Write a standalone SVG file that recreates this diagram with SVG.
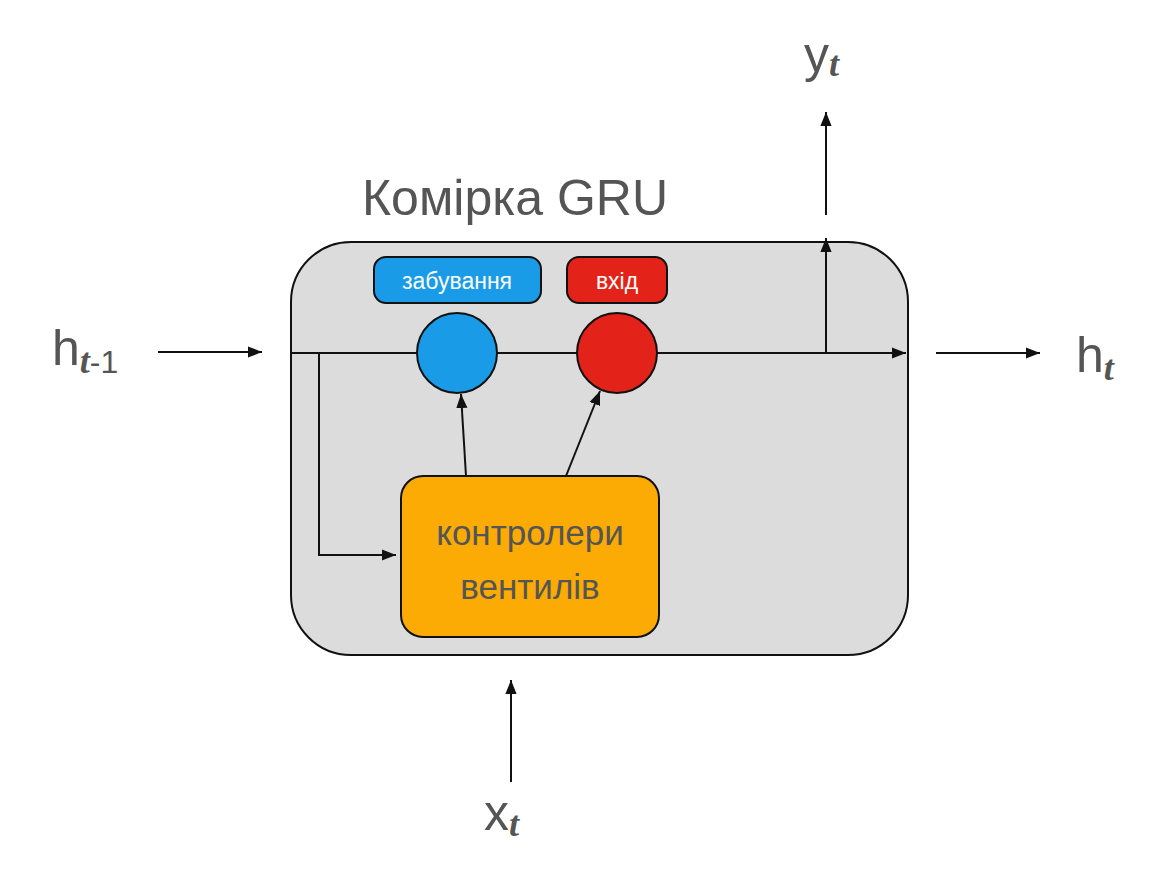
<svg xmlns="http://www.w3.org/2000/svg" width="1166" height="872" viewBox="0 0 1166 872">
<defs>
<marker id="ah" viewBox="0 0 10 10" refX="10" refY="5" markerWidth="5" markerHeight="5" orient="auto-start-reverse" markerUnits="userSpaceOnUse" style="overflow:visible">
<path d="M0,0 L10,5 L0,10 z" fill="#111"/>
</marker>
<marker id="am" viewBox="0 0 10 10" refX="10" refY="5" markerWidth="14" markerHeight="14" orient="auto" markerUnits="userSpaceOnUse">
<path d="M0,1 L10,5 L0,9 z" fill="#111"/>
</marker>
</defs>
<style>
.ln{stroke:#111;stroke-width:2;fill:none}
.lbl{font-family:"Liberation Sans",Arial,sans-serif;fill:#555}
.sub{font-family:"Liberation Serif","DejaVu Serif",serif;font-weight:bold;font-style:italic;fill:#555}
.w{font-family:"Liberation Sans",Arial,sans-serif;fill:#fff;font-size:23px;text-anchor:middle}
</style>
<rect width="1166" height="872" fill="#fff"/>
<g id="cell">
<rect x="291" y="242" width="617" height="413" rx="60" fill="#dcdcdc" stroke="#111" stroke-width="2"/>
<text x="515" y="215" class="lbl" font-size="50" text-anchor="middle">Комірка GRU</text>
</g>
<g id="connectors">
<line class="ln" x1="291" y1="353" x2="906" y2="353" marker-end="url(#am)"/>
<polyline class="ln" points="319,353 319,555 396,555" marker-end="url(#am)"/>
<line class="ln" x1="466" y1="476" x2="461" y2="394" marker-end="url(#am)"/>
<line class="ln" x1="566" y1="476" x2="600" y2="391" marker-end="url(#am)"/>
<line class="ln" x1="826" y1="353" x2="826" y2="238" marker-end="url(#am)"/>
<line class="ln" x1="826" y1="215" x2="826" y2="112" marker-end="url(#am)"/>
<line class="ln" x1="158" y1="352" x2="262" y2="352" marker-end="url(#am)"/>
<line class="ln" x1="936" y1="353" x2="1040" y2="353" marker-end="url(#am)"/>
<line class="ln" x1="511" y1="782" x2="511" y2="680" marker-end="url(#am)"/>
</g>
<g id="forget">
<rect x="374" y="257" width="167" height="46" rx="12" fill="#1a9be8" stroke="#111" stroke-width="2"/>
<text x="457" y="289" class="w">забування</text>
<circle cx="457" cy="353" r="40" fill="#1a9be8" stroke="#111" stroke-width="2"/>
</g>
<g id="input">
<rect x="567" y="257" width="100" height="46" rx="12" fill="#e3231a" stroke="#111" stroke-width="2"/>
<text x="617" y="289" class="w">вхід</text>
<circle cx="617" cy="353" r="40" fill="#e3231a" stroke="#111" stroke-width="2"/>
</g>
<g id="controllers">
<rect x="401" y="476" width="258" height="161" rx="22" fill="#fbab04" stroke="#111" stroke-width="2"/>
<text x="530" y="545" class="lbl" font-size="35" text-anchor="middle">контролери</text>
<text x="530" y="599" class="lbl" font-size="35" text-anchor="middle">вентилів</text>
</g>
<g id="h_prev"><text x="52" y="365" class="lbl" font-size="50">h<tspan class="sub" font-size="36" dy="8">t</tspan><tspan font-size="32">-1</tspan></text></g>
<g id="h_t"><text x="1076" y="372" class="lbl" font-size="50">h<tspan class="sub" font-size="36" dy="8">t</tspan></text></g>
<g id="y_t"><text x="804" y="72" class="lbl" font-size="50">y<tspan class="sub" font-size="36" dy="4">t</tspan></text></g>
<g id="x_t"><text x="484" y="830" class="lbl" font-size="50">x<tspan class="sub" font-size="36" dy="6">t</tspan></text></g>
</svg>
